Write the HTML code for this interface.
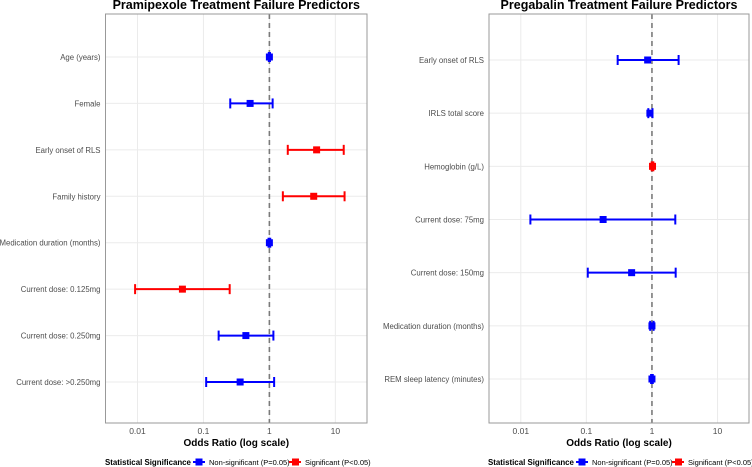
<!DOCTYPE html>
<html><head><meta charset="utf-8">
<style>
body{margin:0;background:#fff;}
svg{display:block;font-family:"Liberation Sans",Arial,sans-serif;}
</style></head>
<body>
<svg id="chart" width="752" height="467" viewBox="0 0 752 467"></svg>
<script>
const leftLabels=["Age (years)","Female","Early onset of RLS","Family history","Medication duration (months)","Current dose: 0.125mg","Current dose: 0.250mg","Current dose: >0.250mg"];
const leftOR=[1.0,0.51,5.2,4.7,1.0,0.048,0.44,0.36];
const leftLo=[0.98,0.255,1.9,1.6,0.97,0.0092,0.17,0.11];
const leftHi=[1.02,1.12,13.4,13.8,1.03,0.25,1.15,1.18];
const leftSig=[0,0,1,1,0,1,0,0];
const rightLabels=["Early onset of RLS","IRLS total score","Hemoglobin (g/L)","Current dose: 75mg","Current dose: 150mg","Medication duration (months)","REM sleep latency (minutes)"];
const rightOR=[0.86,0.93,1.02,0.18,0.49,1.0,1.0];
const rightLo=[0.30,0.88,0.99,0.014,0.105,0.94,0.97];
const rightHi=[2.55,1.02,1.05,2.27,2.3,1.06,1.03];
const rightSig=[0,0,1,0,0,0,0];
const ticks=[0.01,0.1,1,10];
const tickLabels=["0.01","0.1","1","10"];

const NS="http://www.w3.org/2000/svg";
const svg=document.getElementById('chart');
function el(tag,attrs,parent){const e=document.createElementNS(NS,tag);for(const k in attrs)e.setAttribute(k,attrs[k]);(parent||svg).appendChild(e);return e;}

function panel(cfg){
  const g=el('g',{});
  
  
  const L=cfg.x0,R=cfg.x1,T=14,B=423;
  const dmin=-2.485,dmax=1.48;
  const xs=v=>L+(Math.log10(v)-dmin)/(dmax-dmin)*(R-L);
  const n=cfg.labels.length;
  const ys=i=>cfg.yFirst+i*(cfg.yLast-cfg.yFirst)/(n-1);
  ticks.forEach((t,i)=>{
    const gl=el('line',{x1:xs(t),x2:xs(t),y1:T,y2:B,stroke:'#ebebeb','stroke-width':1},g);
    
    
    const tl=el('text',{x:xs(t),y:434,'text-anchor':'middle','font-size':8.5,fill:'#4d4d4d'},g);
    tl.textContent=tickLabels[i];
    
    
  });
  cfg.labels.forEach((lab,i)=>{
    const y=ys(i);
    const hl=el('line',{x1:L,x2:R,y1:y,y2:y,stroke:'#ebebeb','stroke-width':1},g);
    
    
    const t=el('text',{x:L-5,y:y+3,'text-anchor':'end','font-size':7.8,fill:'#4d4d4d'},g);
    t.textContent=lab;
    
    
  });
  const ref=el('line',{x1:xs(1),x2:xs(1),y1:T,y2:B,stroke:'#7a7a7a','stroke-width':1.6,'stroke-dasharray':'5,4'},g);
  
  
  cfg.labels.forEach((lab,i)=>{
    const y=ys(i),c=cfg.sig[i]?'#ff0000':'#0000ff';
    const m=el('g',{},g);
    
    
    const a=xs(cfg.lo[i]),b=xs(cfg.hi[i]);
    el('line',{x1:a,x2:b,y1:y,y2:y,stroke:c,'stroke-width':2},m);
    el('line',{x1:a,x2:a,y1:y-5,y2:y+5,stroke:c,'stroke-width':2},m);
    el('line',{x1:b,x2:b,y1:y-5,y2:y+5,stroke:c,'stroke-width':2},m);
    const p=xs(cfg.or[i]);
    el('rect',{x:p-3.5,y:y-3.5,width:7,height:7,fill:c},m);
  });
  const fr=el('rect',{x:L,y:T,width:R-L,height:B-T,fill:'none',stroke:'#999','stroke-width':1},g);
  
  
  const ti=el('text',{x:(L+R)/2,y:9,'text-anchor':'middle','font-size':12.5,'font-weight':'bold',fill:'#000'},g);
  ti.textContent=cfg.title;
  
  
  const xt=el('text',{x:(L+R)/2,y:446,'text-anchor':'middle','font-size':10,'font-weight':'bold',fill:'#000'},g);
  xt.textContent='Odds Ratio (log scale)';
  
  
  const lg=el('g',{},g);
  
  
  const lx=cfg.legX;
  const lt=el('text',{x:lx,y:465,'font-size':7.9,'font-weight':'bold',fill:'#000'},lg);
  lt.textContent='Statistical Significance';
  el('rect',{x:lx+90.5,y:458.5,width:7,height:7,fill:'#0000ff'},lg);
  el('line',{x1:lx+88,x2:lx+100,y1:462,y2:462,stroke:'#0000ff','stroke-width':2},lg);
  const l1=el('text',{x:lx+104,y:465,'font-size':7.5,fill:'#000'},lg);
  l1.textContent='Non-significant (P=0.05)';
  el('rect',{x:lx+187,y:458.5,width:7,height:7,fill:'#ff0000'},lg);
  el('line',{x1:lx+184,x2:lx+196,y1:462,y2:462,stroke:'#ff0000','stroke-width':2},lg);
  const l2=el('text',{x:lx+200,y:465,'font-size':7.5,fill:'#000'},lg);
  l2.textContent='Significant (P<0.05)';
}
panel({name:'pramipexole-panel',title:'Pramipexole Treatment Failure Predictors',x0:105.5,x1:367,yFirst:57,yLast:382,labels:leftLabels,or:leftOR,lo:leftLo,hi:leftHi,sig:leftSig,legX:105});
panel({name:'pregabalin-panel',title:'Pregabalin Treatment Failure Predictors',x0:489,x1:749,yFirst:60,yLast:379,labels:rightLabels,or:rightOR,lo:rightLo,hi:rightHi,sig:rightSig,legX:488});
</script>
</body></html>
